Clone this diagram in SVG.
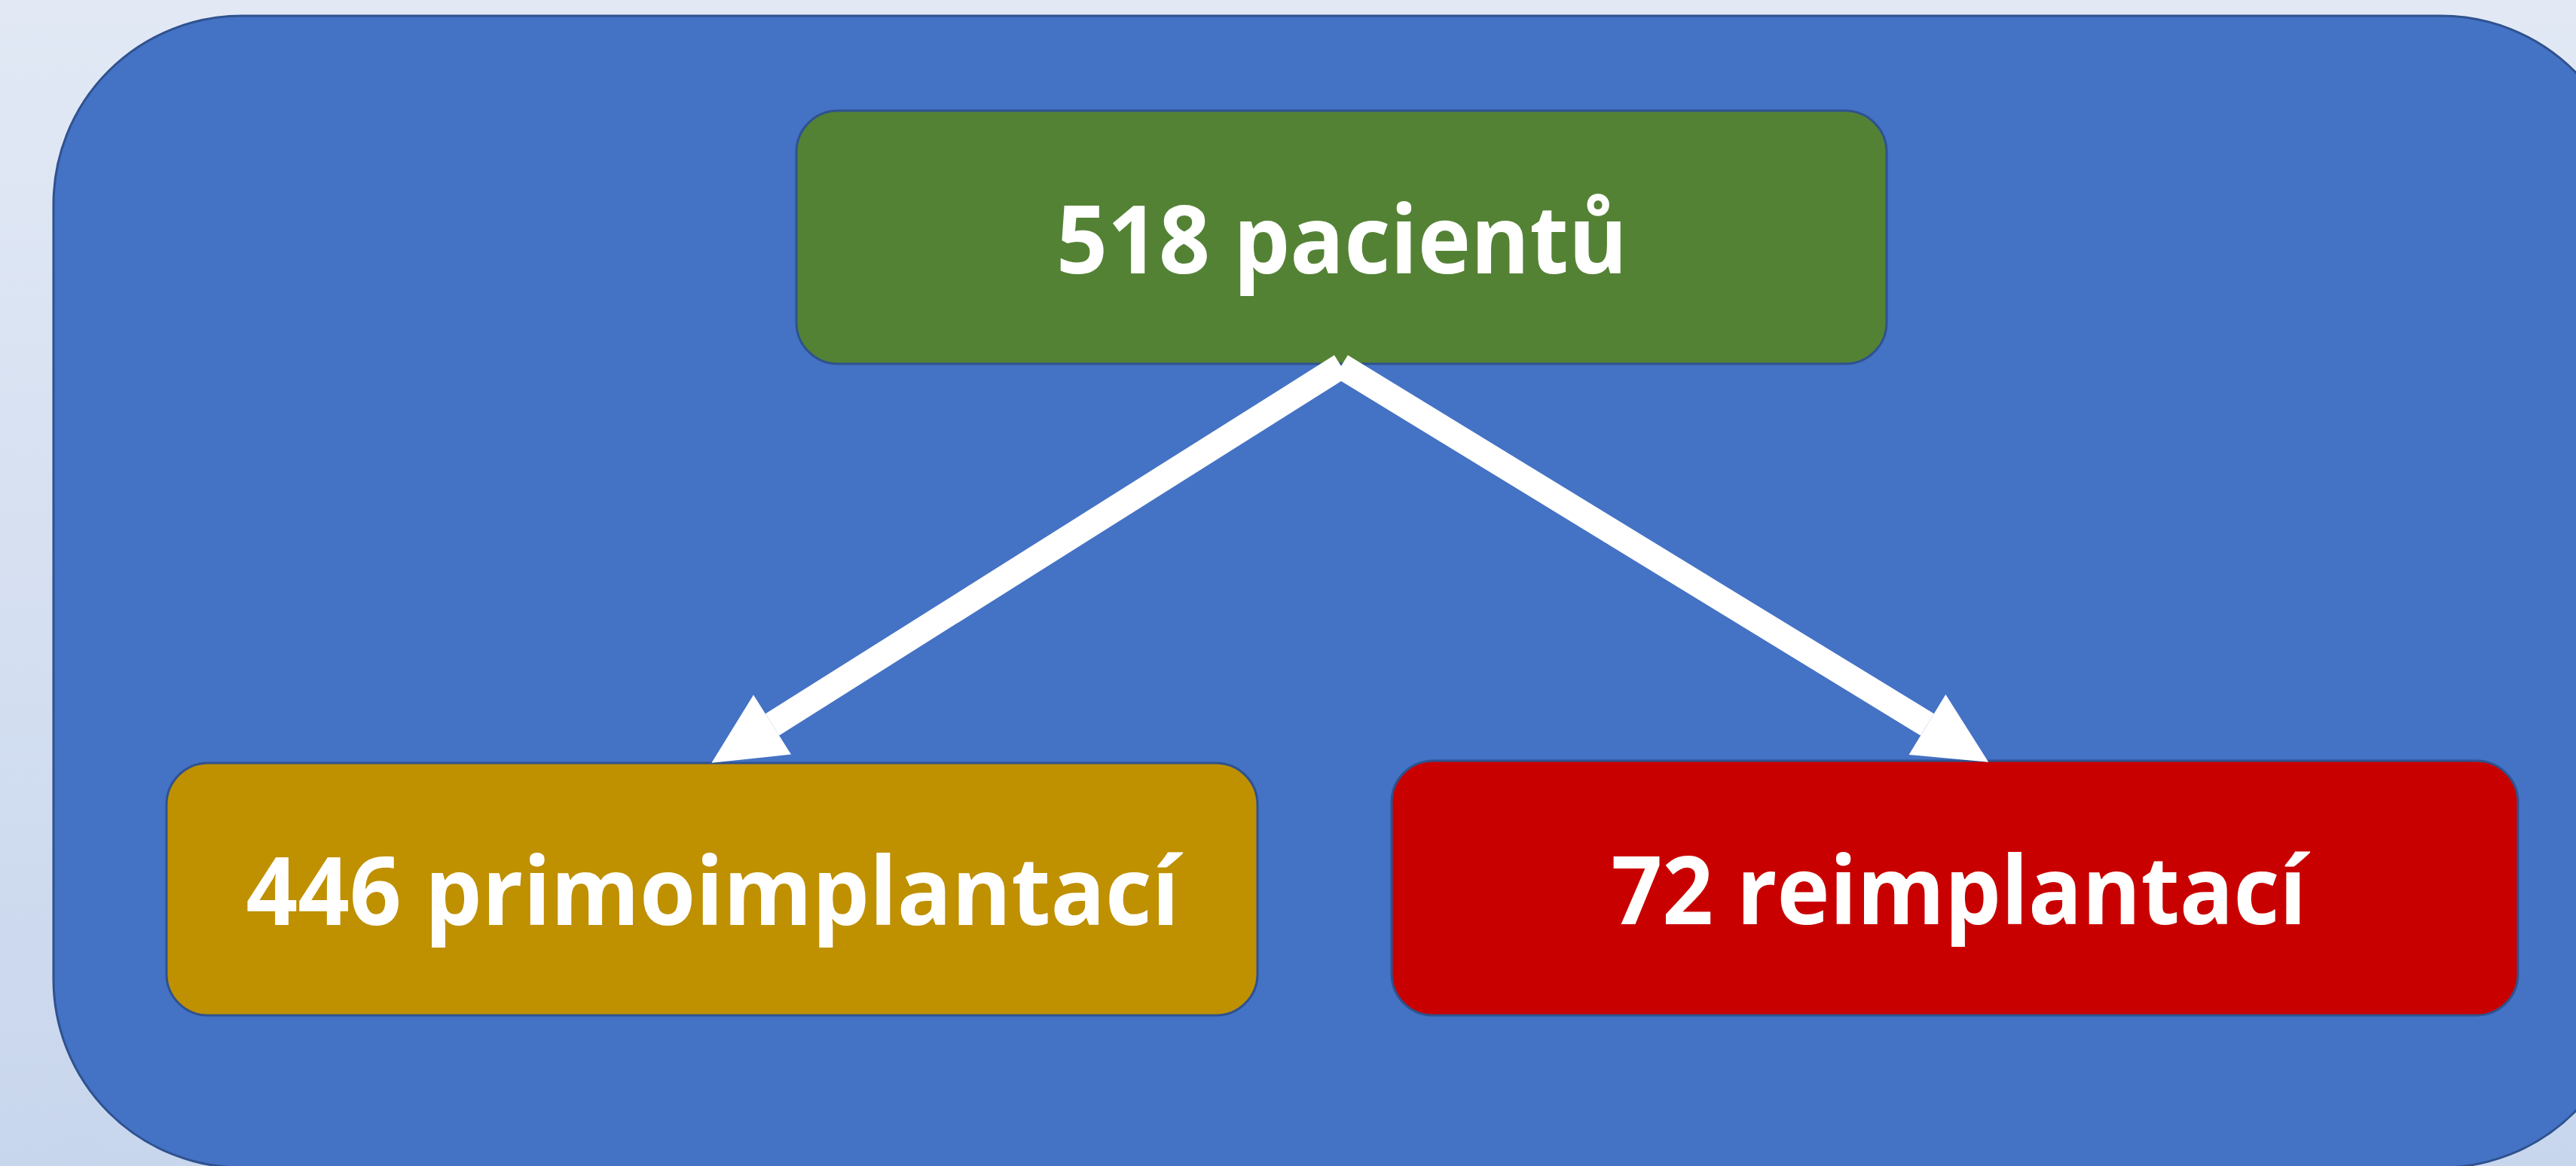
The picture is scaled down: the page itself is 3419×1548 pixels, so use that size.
<svg xmlns="http://www.w3.org/2000/svg" width="3419" height="1548" viewBox="0 0 3419 1548">
  <defs>
    <linearGradient id="bg" x1="0" y1="0" x2="0" y2="1">
      <stop offset="0" stop-color="#e2e9f5"/>
      <stop offset="1" stop-color="#c8d6ed"/>
    </linearGradient>
    <marker id="head" markerUnits="strokeWidth" viewBox="0 0 2.8 2.75" refX="0" refY="1.375" markerWidth="2.8" markerHeight="2.75" orient="auto" overflow="visible">
      <path d="M0,0 L2.8,1.375 L0,2.75 Z" fill="#ffffff"/>
    </marker>
    <style>
      .box { stroke: #2f528f; stroke-width: 3; }
      .label { font-family: "Open Sans", "Noto Sans", "Liberation Sans", sans-serif; font-weight: 700; font-size: 126px; fill: #ffffff; text-anchor: middle; }
      .conn { stroke: #ffffff; stroke-width: 34; fill: none; stroke-linecap: butt; }
    </style>
  </defs>

  <rect x="0" y="0" width="3419" height="1548" fill="url(#bg)"/>

  <g id="container">
    <rect x="71" y="21" width="3419" height="1529" rx="250" ry="250" fill="#4472c4" stroke="#2f528f" stroke-width="3"/>
  </g>

  <g id="node-patients">
    <rect class="box" x="1057" y="147" width="1447" height="336" rx="55" ry="55" fill="#548235"/>
    <text class="label" x="1781" y="363" textLength="758" lengthAdjust="spacingAndGlyphs">518 pacientů</text>
  </g>

  <g id="node-primo">
    <rect class="box" x="221" y="1013" width="1448" height="335" rx="55" ry="55" fill="#bf9000"/>
    <text class="label" x="946" y="1228" textLength="1239" lengthAdjust="spacingAndGlyphs">446 primoimplantací</text>
  </g>

  <g id="node-reimpl">
    <rect class="box" x="1847" y="1010" width="1495" height="338" rx="55" ry="55" fill="#c90000"/>
    <text class="label" x="2600" y="1227" textLength="923" lengthAdjust="spacingAndGlyphs">72 reimplantací</text>
  </g>

  <g id="connectors">
    <line class="conn" x1="1780" y1="486" x2="1025" y2="962" marker-end="url(#head)"/>
    <line class="conn" x1="1780" y1="486" x2="2558" y2="962" marker-end="url(#head)"/>
  </g>
</svg>
